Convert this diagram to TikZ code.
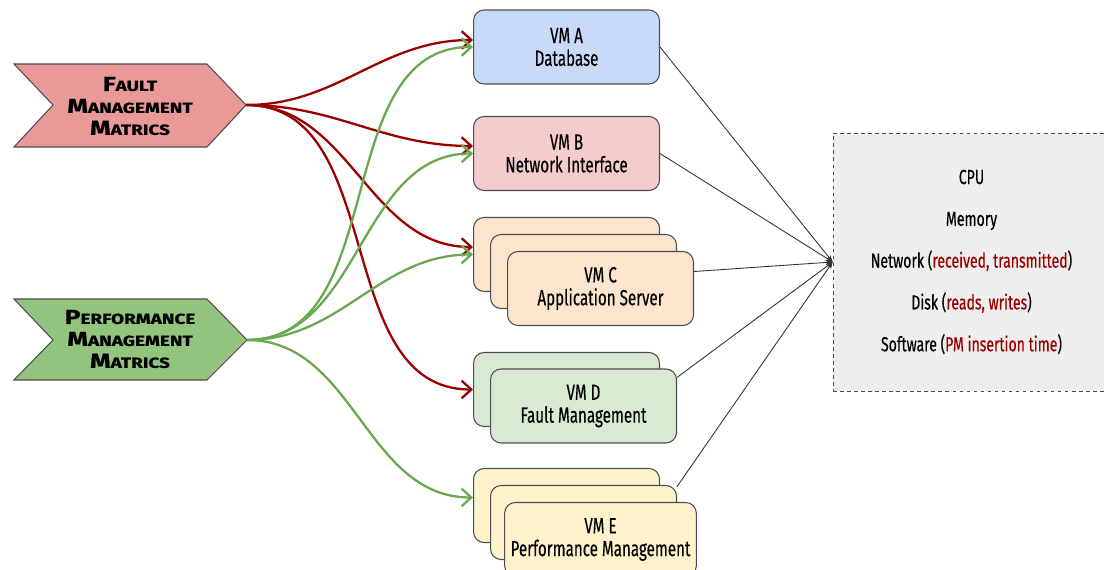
\documentclass[tikz,border=0pt]{standalone}
\usepackage{fontspec}
\setmainfont{Fira Sans}[FakeStretch=0.69, FakeBold=0.35]
\newfontfamily\markfont{Fira Sans}[FakeStretch=1.3, FakeBold=0.9]
\usetikzlibrary{arrows.meta, calc}

\definecolor{faultred}{HTML}{990000}
\definecolor{perfgreen}{HTML}{6AA84F}
\definecolor{faultfill}{HTML}{EA9999}
\definecolor{perffill}{HTML}{93C47D}
\definecolor{vmafill}{HTML}{C9DAF8}
\definecolor{vmbfill}{HTML}{F4CCCC}
\definecolor{vmcfill}{HTML}{FCE5CD}
\definecolor{vmdfill}{HTML}{D9EAD3}
\definecolor{vmefill}{HTML}{FFF2CC}
\definecolor{boxline}{HTML}{4D4D4D}
\definecolor{metricfill}{HTML}{EEEEEE}

% small caps by hand for the chevron labels
\newcommand{\capword}[2]{{\fontsize{11.5}{12.5}\selectfont #1}{\fontsize{8.3}{12.5}\selectfont #2}}

\begin{document}
\begin{tikzpicture}[x=0.02cm, y=-0.02cm,
	vmbox/.style={draw=boxline, line width=0.6pt, rounded corners=6pt, minimum width=3.72cm, minimum height=1.48cm, align=center, font=\fontsize{12.5}{13}\selectfont},
	chevron/.style={draw=boxline, line width=0.6pt},
	chevtext/.style={align=center, font=\markfont\bfseries\fontsize{11.5}{12.5}\selectfont},
	faultarrow/.style={draw=faultred, line width=1.3pt, -{Straight Barb[length=5.5pt,width=10pt]}},
	perfarrow/.style={draw=perfgreen, line width=1.3pt, -{Straight Barb[length=5.5pt,width=10pt]}},
	metricline/.style={draw=black!80, line width=0.5pt, -{Stealth[length=4pt,width=3pt]}}]
	\useasboundingbox (0,0) rectangle (1104,570);
	\clip (0,0) rectangle (1104,570);
	
	% CHEVRONS
	\filldraw[chevron, fill=faultfill] (14,64) -- (207,64) -- (246,105) -- (207,147) -- (14,147) -- (53,105) -- cycle;
	\filldraw[chevron, fill=perffill] (14,299) -- (207,299) -- (247,340) -- (207,380) -- (14,380) -- (53,340) -- cycle;
	\coordinate (faulttip) at (246,105);
	\coordinate (perftip) at (247,340);
	\node[chevtext] (fault) at (130,106) {\capword{F}{AULT}\\\capword{M}{ANAGEMENT}\\\capword{M}{ATRICS}};
	\node[chevtext] (perf) at (130,339) {\capword{P}{ERFORMANCE}\\\capword{M}{ANAGEMENT}\\\capword{M}{ATRICS}};
	
	% VM BOXES
	\node[vmbox, fill=vmafill] (vma) at (566.5,47) {VM A\\Database};
	\node[vmbox, fill=vmbfill] (vmb) at (566.5,153.5) {VM B\\Network Interface};
	\node[vmbox, fill=vmcfill] (vmc1) at (566.5,254.5) {};
	\node[vmbox, fill=vmcfill] (vmc2) at (583.5,271.5) {};
	\node[vmbox, fill=vmcfill] (vmc3) at (600.5,288.5) {VM C\\Application Server};
	\node[vmbox, fill=vmdfill] (vmd1) at (566.5,389.5) {};
	\node[vmbox, fill=vmdfill] (vmd2) at (583.5,406) {VM D\\Fault Management};
	\node[vmbox, fill=vmefill] (vme1) at (566.5,505.5) {};
	\node[vmbox, fill=vmefill] (vme2) at (583.5,522.5) {};
	\node[vmbox, fill=vmefill] (vme3) at (600.5,539.5) {VM E\\Performance Management};
	
	% METRICS
	\node[draw=black!70, dash pattern=on 2pt off 2pt, fill=metricfill, minimum width=5.54cm, minimum height=5.16cm, align=center, font=\fontsize{11.6}{23.8}\selectfont] (metrics) at (971.5,262)
	{CPU\\Memory\\Network (\textcolor{faultred}{received, transmitted})\\Disk (\textcolor{faultred}{reads, writes})\\Software (\textcolor{faultred}{PM insertion time})};
	
	% FAULT ARROWS
	\draw[faultarrow] (faulttip) to[out=0, in=180] ($(vma.west)+(0,-7)$);
	\draw[faultarrow] (faulttip) to[out=0, in=180] ($(vmb.west)+(0,-7.5)$);
	\draw[faultarrow] (faulttip) to[out=0, in=180] ($(vmc1.west)+(0,-7.5)$);
	\draw[faultarrow] (faulttip) to[out=0, in=180] (vmd1.west);
	
	% PERFORMANCE ARROWS
	\draw[perfarrow] (perftip) to[out=0, in=180] (vma.west);
	\draw[perfarrow] (perftip) to[out=0, in=180] (vmb.west);
	\draw[perfarrow] (perftip) to[out=0, in=180] (vmc1.west);
	\draw[perfarrow] (perftip) to[out=0, in=180] ($(vme1.west)+(0,-8)$);
	
	% LINES TO METRICS
	\draw[metricline] (vma.east) -- (metrics.west);
	\draw[metricline] (vmb.east) -- (metrics.west);
	\draw[metricline] (vmc3.east |- vmc2.center) -- (metrics.west);
	\draw[metricline] (vmd2.17) -- (metrics.west);
	\draw[metricline] (vme2.21) -- (metrics.west);
\end{tikzpicture}
\end{document}
